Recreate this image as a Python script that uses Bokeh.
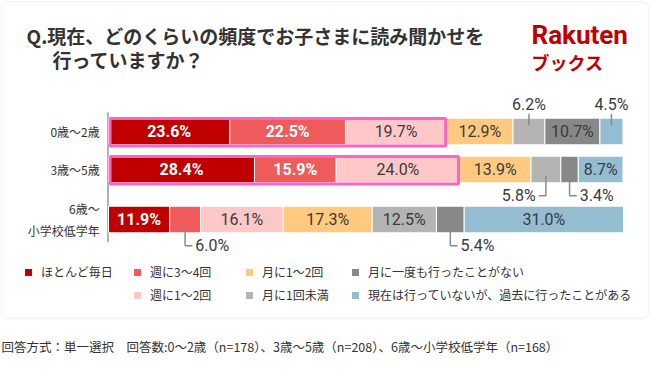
import numpy as np
from bokeh.plotting import figure
from bokeh.models import (FactorRange, Range1d, Legend, LegendItem, Label,
                          BoxAnnotation, ColumnDataSource)
from bokeh.core.properties import value
from bokeh.embed import file_html
from bokeh.resources import INLINE

# ---------------- data ----------------
row_labels = ["0歳〜2歳", "3歳〜5歳", "6歳〜\n小学校低学年"]
row_groups = ["A", "A", "B"]
categories = ["ほとんど毎日", "週に3〜4回", "週に1〜2回", "月に1〜2回",
              "月に1回未満", "月に一度も行ったことがない",
              "現在は行っていないが、過去に行ったことがある"]
age_0_2 = [23.6, 22.5, 19.7, 12.9, 6.2, 10.7, 4.5]
age_3_5 = [28.4, 15.9, 24.0, 13.9, 5.8, 3.4, 8.7]
age_6_up = [11.9, 6.0, 16.1, 17.3, 12.5, 5.4, 31.0]

title_lines = ["Q.現在、どのくらいの頻度でお子さまに読み聞かせを", "行っていますか？"]
footer = "回答方式：単一選択　回答数:0〜2歳（n=178）、3歳〜5歳（n=208）、6歳〜小学校低学年（n=168）"

# ---------------- style ----------------
colors = ["#c00000", "#ef5b5b", "#ffc8c8", "#ffc97f", "#b4b4b4", "#888888", "#95bdd1"]
white_label = [True, True, False, False, False, False, False]
highlight_rows = [0, 1]
highlight_ncats = 3
# callouts for small segments: (row, category, direction)
callouts = [(0, 4, "up"), (0, 6, "up"), (1, 4, "left"), (1, 5, "right"),
            (2, 1, "right"), (2, 5, "right")]
JP = "Noto Sans CJK JP"
NUM = "Roboto"
DARK = "#3a3a3a"

W, H = 650, 370
PX = 5.14                      # pixels per percent
X0 = 108                       # pixel position of 0 %
UNIT = 38.0                    # pixels per row unit
GROUP_PAD = 0.316
span = 3 + GROUP_PAD
pad = (H / UNIT - span) / 2
ROW_SHIFT = 10 / UNIT          # rows sit 10px above the figure's middle

series = [age_0_2, age_3_5, age_6_up]
rows = list(zip(row_groups, row_labels))
vals = np.array(series)
cum = np.cumsum(vals, axis=1)
lefts = cum - vals
centers = lefts + vals / 2


def at(i, off=0.0):
    return rows[i] + (ROW_SHIFT + off,)


def sy(ry):
    return H - ry


p = figure(width=W, height=H,
           x_range=Range1d(-X0 / PX, (W - X0) / PX),
           y_range=FactorRange(factors=rows[::-1], factor_padding=0.0,
                               group_padding=GROUP_PAD, range_padding=pad,
                               range_padding_units="absolute"),
           output_backend="svg", toolbar_location=None,
           min_border_left=0, min_border_right=0,
           min_border_top=0, min_border_bottom=0)
p.xaxis.visible = False
p.yaxis.visible = False
p.grid.visible = False
p.outline_line_color = None
p.background_fill_color = "white"
p.border_fill_color = "white"

# outer rounded box
p.add_layout(BoxAnnotation(left=1, right=W - 2, top=sy(1), bottom=sy(318),
                           left_units="screen", right_units="screen",
                           top_units="screen", bottom_units="screen",
                           fill_color=None, line_color="#dcdcdc", line_width=1.5,
                           border_radius=6, level="underlay"))

# axis line
p.segment(x0=[-0.1], x1=[-0.1], y0=[at(0, 0.5)], y1=[at(2, -0.6)],
          line_color="#b0b0b0", line_width=2)

# stacked bars
renderers = []
for j, cat in enumerate(categories):
    src = ColumnDataSource(dict(y=[at(i) for i in range(len(rows))],
                                left=lefts[:, j], right=cum[:, j]))
    r = p.hbar(y="y", left="left", right="right", height=0.7, source=src,
               fill_color=colors[j], line_color="white", line_width=1)
    renderers.append(r)

# highlight boxes
hl = ColumnDataSource(dict(y=[at(i, -0.02) for i in highlight_rows],
                           left=[0.3] * len(highlight_rows),
                           right=[cum[i, highlight_ncats - 1] - 0.2 for i in highlight_rows]))
p.hbar(y="y", left="left", right="right", height=0.72, source=hl,
       fill_color=None, line_color="#ff63c3", line_width=3)

# value labels inside bars
small = {(r, c) for r, c, _ in callouts}
wx, wy, wt, dx, dy, dt = [], [], [], [], [], []
for i in range(len(rows)):
    for j in range(len(categories)):
        if (i, j) in small:
            continue
        txt = f"{vals[i, j]:.1f}%"
        if white_label[j]:
            wx.append(centers[i, j]); wy.append(at(i)); wt.append(txt)
        else:
            dx.append(centers[i, j]); dy.append(at(i)); dt.append(txt)
p.text(x=wx, y=wy, text=wt, text_align="center", text_baseline="middle",
       text_font=value(NUM), text_font_size="16px", text_font_style="bold",
       text_color="white")
p.text(x=dx, y=dy, text=dt, text_align="center", text_baseline="middle",
       text_font=value(NUM), text_font_size="16px", text_color=DARK)

# callouts
vx0, vy0, vx1, vy1 = [], [], [], []
hx0, hy0, hx1, hy1 = [], [], [], []
lx, ly, lt, la = [], [], [], []
for i, j, d in callouts:
    c = centers[i, j]
    txt = f"{vals[i, j]:.1f}%"
    if d == "up":
        vx0.append(c); vx1.append(c)
        vy0.append(at(i, 0.16)); vy1.append(at(i, 0.47))
        lx.append(c); ly.append(at(i, 0.71)); lt.append(txt); la.append("center")
    else:
        s = -1 if d == "left" else 1
        vx0.append(c); vx1.append(c)
        vy0.append(at(i, -0.17)); vy1.append(at(i, -0.69))
        hx0.append(c); hx1.append(c + s * 1.4)
        hy0.append(at(i, -0.69)); hy1.append(at(i, -0.69))
        lx.append(c + s * 2.0); ly.append(at(i, -0.69)); lt.append(txt)
        la.append("right" if d == "left" else "left")
p.segment(x0=vx0, x1=vx1, y0=vy0, y1=vy1, line_color="#8a8a8a", line_width=1.5)
p.segment(x0=hx0, x1=hx1, y0=hy0, y1=hy1, line_color="#8a8a8a", line_width=1.5)
p.text(x=lx, y=ly, text=lt, text_align=la, text_baseline="middle",
       text_font=value(NUM), text_font_size="16px", text_color=DARK)

# row labels
p.text(x=[-1.7] * len(rows), y=[at(i) for i in range(len(rows))], text=row_labels,
       text_align="right", text_baseline="middle", text_font=value(JP),
       text_font_size="12px", text_color="#333333", text_line_height=1.25)

# title
p.add_layout(Label(x=26, y=sy(35), x_units="screen", y_units="screen",
                   text=title_lines[0], text_font=JP, text_font_size="19px",
                   text_font_style="bold", text_color="#333333",
                   text_baseline="middle"))
p.add_layout(Label(x=52, y=sy(59), x_units="screen", y_units="screen",
                   text=title_lines[1], text_font=JP, text_font_size="19px",
                   text_font_style="bold", text_color="#333333",
                   text_baseline="middle"))
# logo
p.add_layout(Label(x=531, y=sy(34), x_units="screen", y_units="screen",
                   text="Rakuten", text_font="Roboto", text_font_size="26px",
                   text_font_style="bold", text_color="#bf0000",
                   text_baseline="middle"))
p.add_layout(Label(x=531, y=sy(61), x_units="screen", y_units="screen",
                   text="ブックス", text_font=JP, text_font_size="18px",
                   text_font_style="bold", text_color="#bf0000",
                   text_baseline="middle"))

# legends (four columns)
legend_cols = [[0], [1, 2], [3, 4], [5, 6]]
legend_x = [23, 132, 244, 350]
legend_bottom = [280, 303]
for idxs, lxp in zip(legend_cols, legend_x):
    items = [LegendItem(label=value(categories[k]), renderers=[renderers[k]]) for k in idxs]
    lg = Legend(items=items, location=(lxp, sy(legend_bottom[len(idxs) - 1])),
                orientation="vertical", glyph_width=10, glyph_height=10,
                label_standoff=8, spacing=6, padding=0, margin=0,
                border_line_color=None, background_fill_alpha=0,
                label_text_font=JP, label_text_font_size="12px",
                label_text_color="#333333", label_height=12)
    p.add_layout(lg)

# footer
p.add_layout(Label(x=1, y=sy(346), x_units="screen", y_units="screen",
                   text=footer, text_font=JP, text_font_size="12.5px",
                   text_color="#333333", text_baseline="middle"))

open("out.html", "w").write(file_html(p, INLINE))
